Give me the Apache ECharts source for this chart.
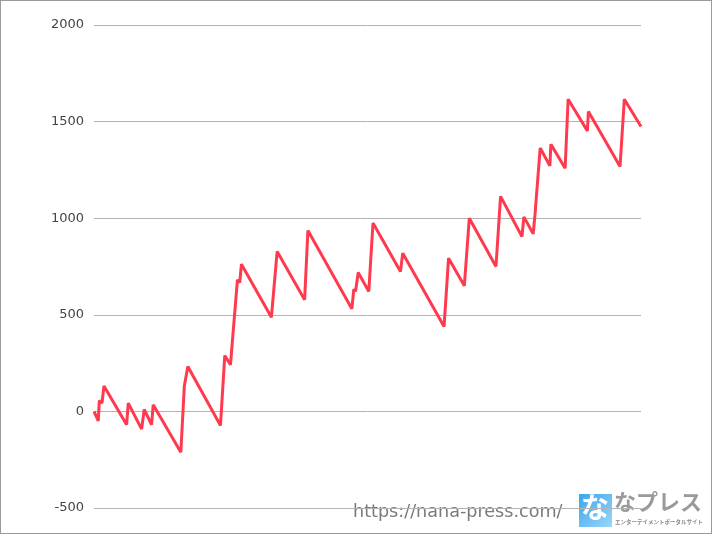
<!DOCTYPE html>
<html><head><meta charset="utf-8">
<script src="https://cdn.jsdelivr.net/npm/echarts@6/dist/echarts.min.js"></script>
<style>
html,body{margin:0;padding:0;background:#fff;}
#c{width:712px;height:534px;box-sizing:border-box;border:1px solid #9a9a9a;}
</style></head>
<body><div id="c"></div>
<script>
// x positions (sequence position along the horizontal axis) and cumulative values
const xPos = [0, 4.3, 5.3, 8, 10, 32.7, 34.3, 47.7, 50.3, 57.7, 59.3, 87, 90.5, 92.5, 94, 126.7, 131, 136.7, 143.7, 146, 147.7, 177.7, 183.5, 211, 214.3, 258.3, 260.3, 262, 264.7, 275.3, 279.5, 307, 309.3, 350.7, 355.2, 371, 376, 402.7, 407.3, 428.7, 430.7, 440, 441.8, 443.7, 447, 456.7, 457.7, 472, 475, 494.3, 495.3, 527, 531.3, 548];
const values = [0, -49, 56, 43, 132, -69, 43, -92, 10, -69, 34, -211, 132, 129, 232, -73, 289, 241, 681, 667, 762, 487, 828, 578, 936, 531, 633, 621, 719, 621, 975, 724, 819, 439, 793, 650, 1000, 750, 1113, 905, 1007, 919, 1018, 1012, 1363, 1271, 1383, 1259, 1616, 1452, 1552, 1268, 1616, 1475];
const yTicks = [-500, 0, 500, 1000, 1500, 2000];
const watermarkUrl = 'https://nana-press.com/';
const logoText = 'なプレス';
const logoSub = 'エンターテイメントポータルサイト';

const chart = echarts.init(document.getElementById('c'), null, {renderer: 'canvas'});
const data = xPos.map((x, i) => [x, values[i]]);
chart.setOption({
  animation: false,
  grid: {left: 93, right: 70, top: 24, bottom: 25},
  xAxis: {type: 'value', min: 0, max: 548, show: false},
  yAxis: {
    type: 'value', min: yTicks[0], max: yTicks[yTicks.length - 1], interval: 500,
    axisLine: {show: false}, axisTick: {show: false},
    axisLabel: {margin: 10, color: '#444', fontFamily: 'DejaVu Sans', fontSize: 13, formatter: v => String(v)},
    splitLine: {lineStyle: {color: '#b3b3b3', width: 1}}
  },
  series: [{
    type: 'line', data: data, symbol: 'none',
    lineStyle: {color: '#ff3a4f', width: 3}
  }],
  graphic: [
    {type: 'text', left: 352, top: 502, style: {text: watermarkUrl, font: '17.6px "DejaVu Sans"', fill: '#7a7a7a'}},
    {type: 'rect', shape: {x: 578, y: 493, width: 33, height: 33},
     style: {fill: new echarts.graphic.LinearGradient(0, 0, 1, 1, [{offset: 0, color: '#3aa6ee'}, {offset: 1, color: '#9bd6fa'}])}},
    {type: 'text', left: 580, top: 492, style: {text: 'な', font: 'bold 28px "Noto Sans CJK JP"', fill: '#ffffff'}},
    {type: 'text', left: 613, top: 490, style: {text: logoText, font: 'bold 22px "Noto Sans CJK JP"', fill: '#9a9a9a'}},
    {type: 'text', left: 614, top: 518, style: {text: logoSub, font: 'bold 5.5px "Noto Sans CJK JP"', fill: '#888'}}
  ]
});
</script></body></html>
